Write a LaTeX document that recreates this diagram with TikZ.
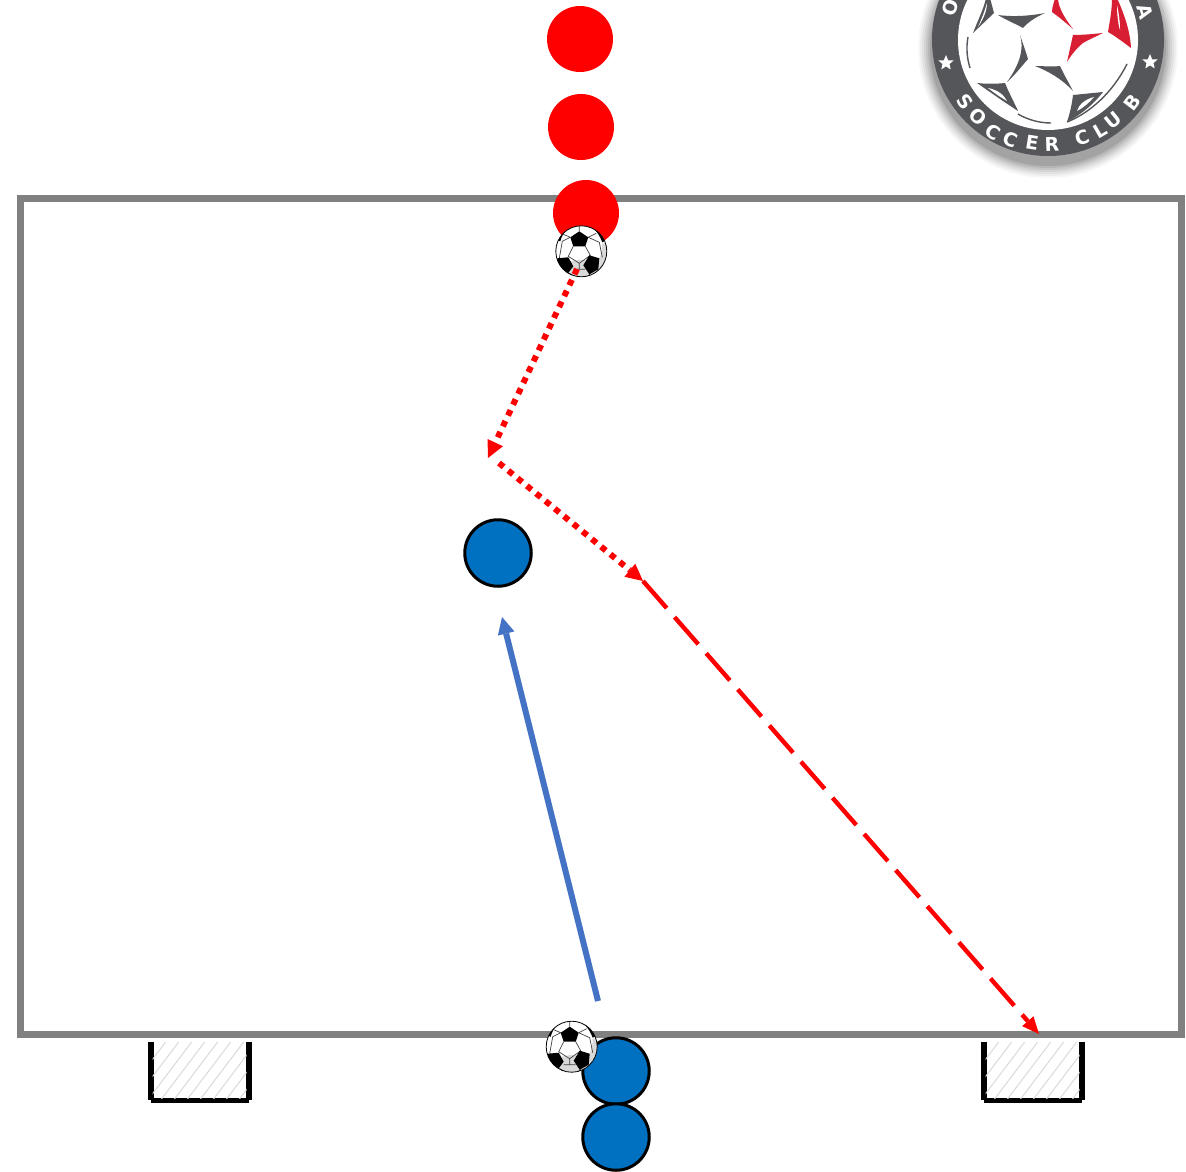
\documentclass[tikz,border=0pt]{standalone}
\usepackage{fontspec}
\setmainfont{Liberation Sans}
\newfontfamily\logofont{DejaVu Sans}
\usetikzlibrary{arrows.meta}
\definecolor{fieldgray}{HTML}{808080}
\definecolor{playerblue}{HTML}{0070C0}
\definecolor{runblue}{HTML}{4472C4}
\definecolor{hatchgray}{HTML}{D9D9D9}
\definecolor{logodark}{HTML}{54565A}
\definecolor{logored}{HTML}{D81E32}
\tikzset{
  x=1pt,y=-1pt,
  redplayer/.style={circle,fill=red,minimum size=66pt,inner sep=0pt},
  blueplayer/.style={circle,fill=playerblue,draw=black,line width=3pt,minimum size=66.5pt,inner sep=0pt},
  dottedpass/.style={draw=red,line width=6pt,dash pattern=on 6pt off 6pt,-{Triangle[length=17pt,width=17pt,fill=red,line width=0pt]}},
  dashedrun/.style={draw=red,line width=4.4pt,dash pattern=on 36pt off 12pt,-{Triangle[length=17pt,width=15pt,fill=red,line width=0pt]}},
  bluerun/.style={draw=runblue,line width=6pt,-{Triangle[length=17pt,width=17pt,fill=runblue,line width=0pt]}},
  goalwall/.style={draw=black,line width=6pt,line cap=butt},
  goalbar/.style={draw=black,line width=5pt,line cap=butt},
  hatchline/.style={draw=hatchgray,line width=1pt},
  logoletter/.style={font=\logofont\bfseries\fontsize{19}{19}\selectfont,text=white,inner sep=0pt},
  ballpatch/.style={fill=black,draw=none},
  ballseam/.style={draw=black!75,line width=.7pt},
  pics/soccerball/.style={code={
    \path[fill=white] (0,0) circle (25.5);
    \begin{scope}
      \clip (0,0) circle (25.5);
      \fill[black!15] (-22,13) -- (-12,11) .. controls (-6,8) and (2,8) .. (6,9) -- (17,9) .. controls (20,4) and (21,-2) .. (21,-8) -- (30,-8) -- (30,30) -- (-30,30) -- cycle;
      \draw[ballseam]
        (-2,-20) -- (-2,-26) (-11,-14) -- (-18,-17) (7,-14) -- (15,-18)
        (-8,-5) -- (-13,5) -- (-2,12) -- (9,4) -- (4,-5)
        (-11,-14) -- (-19,-10) -- (-22,7) (7,-14) -- (18,-9) -- (21,6)
        (-2,12) -- (-2,18) (-8,18) -- (-2,18) -- (4,18)
        (-12,22) -- (-5,26) (9,22) -- (6,26);
      \path[ballpatch] (-2,-20) -- (7,-14) -- (4,-5) -- (-8,-5) -- (-11,-14) -- cycle;
      \path[ballpatch] (-24,7) -- (-13,6) -- (-8,15) -- (-14,23) -- (-23,16) -- cycle;
      \path[ballpatch] (8,4) -- (18,7) -- (17,18) -- (8,23) -- (2,14) -- cycle;
      \path[ballpatch] (-15,-22) .. controls (-18,-18) and (-20,-14) .. (-21,-10) -- (-27,-12) -- (-20,-25) -- cycle;
      \path[ballpatch] (13,-22) .. controls (17,-18) and (19,-14) .. (21,-9) -- (27,-12) -- (20,-25) -- cycle;
    \end{scope}
    \draw[black,line width=.8pt] (0,0) circle (25.5);
  }}
}
\begin{document}
\begin{tikzpicture}
\useasboundingbox (0,0) rectangle (1186,1172);
\begin{scope}
\clip (0,0) rectangle (1186,1172);
% logo shadow
\foreach \r/\o in {130/.03,128/.04,126/.05,124/.06,122/.07,120/.08,118/.10}
  \fill[black,opacity=\o] (1048,48) circle (\r);
% logo disc
\fill[logodark] (1048,40) circle (116);
\fill[white] (1048,40) circle (90);
% logo panels (grey)
\fill[logodark] (973,33) .. controls (978,20) and (984,8) .. (986,-2) -- (990,-2) -- (994,13) -- cycle;
\fill[white] (978,27) .. controls (982,18) and (985,10) .. (987,3) .. controls (987,10) and (984,18) .. (978,27) -- cycle;
\fill[logodark] (998,15) .. controls (1012,17) and (1030,16) .. (1045,13) .. controls (1036,17) and (1028,22) .. (1023,28) .. controls (1016,24) and (1006,20) .. (998,15) -- cycle;
\fill[logodark] (1020,35) .. controls (1023,44) and (1026,52) .. (1028,59) .. controls (1021,67) and (1014,76) .. (1007,82) .. controls (1017,68) and (1025,52) .. (1020,35) -- cycle;
\fill[logodark] (1035,66) .. controls (1043,66) and (1052,67) .. (1060,66) .. controls (1064,75) and (1069,83) .. (1073,91) .. controls (1062,79) and (1048,71) .. (1035,66) -- cycle;
\fill[logodark] (977,83) .. controls (986,84) and (996,84) .. (1005,83) .. controls (1009,93) and (1014,102) .. (1018,111) .. controls (1004,102) and (990,92) .. (977,83) -- cycle;
\fill[white] (988,88) .. controls (993,92) and (1000,97) .. (1007,101) .. controls (1004,95) and (998,90) .. (988,88) -- cycle;
\fill[logodark] (1073,95) .. controls (1083,94) and (1093,93) .. (1103,92) .. controls (1092,106) and (1080,115) .. (1067,122) .. controls (1070,113) and (1072,104) .. (1073,95) -- cycle;
\fill[white] (1077,111) .. controls (1083,108) and (1089,103) .. (1094,97) .. controls (1086,99) and (1079,104) .. (1077,111) -- cycle;
\draw[logodark,line width=1.4pt] (1018,114) .. controls (1028,120) and (1040,123) .. (1051,123);
\draw[logodark,line width=1.4pt] (1067,122) .. controls (1090,113) and (1113,92) .. (1127,64);
\draw[logodark,line width=1.4pt] (968,37) .. controls (966,48) and (967,58) .. (970,68);
% logo panels (red)
\fill[logored] (1052,12) .. controls (1052,7) and (1054,3) .. (1055,-2) -- (1058,-2) .. controls (1058,8) and (1066,20) .. (1073,29) .. controls (1066,23) and (1059,17) .. (1052,12) -- cycle;
\fill[logored] (1073,35) .. controls (1083,35) and (1093,34) .. (1103,33) .. controls (1095,37) and (1088,40) .. (1083,43) .. controls (1077,48) and (1071,55) .. (1067,62) .. controls (1069,53) and (1071,44) .. (1073,35) -- cycle;
\fill[logored] (1112,-2) -- (1117,-2) .. controls (1124,14) and (1130,30) .. (1131,48) .. controls (1123,42) and (1115,36) .. (1108,32) .. controls (1110,20) and (1112,10) .. (1112,-2) -- cycle;
\fill[white] (1117,5) .. controls (1119,14) and (1120,22) .. (1120,30) .. controls (1118,24) and (1117,14) .. (1117,5) -- cycle;
% logo lettering
\foreach \ch/\px/\py/\rot in {S/965/102/-53,O/978/117/-42,C/993/132/-31,C/1010/140/-21,E/1032/143/-9,R/1052/144/2,C/1082/138/19,L/1100/130/30,U/1113/120/39,B/1132/103/53,O/950/8/72,A/1145/12/-74}
  \node[logoletter,rotate=\rot] at (\px,\py) {\ch};
\foreach \sx/\sy in {946/63,1150/62}
  \fill[white] (\sx,\sy)+(0,-8) -- +(2.2,-2.6) -- +(7.6,-2.5) -- +(3.5,1) -- +(4.7,6.5) -- +(0,3.4) -- +(-4.7,6.5) -- +(-3.5,1) -- +(-7.6,-2.5) -- +(-2.2,-2.6) -- cycle;
\end{scope}
% field
\draw[fieldgray,line width=7pt] (20,198) rectangle (1181,1034);
% goals
\foreach \gl/\gr in {151/249,984/1082}{
  \draw[goalwall] (\gl,1042) -- (\gl,1100) (\gr,1042) -- (\gr,1100);
  \draw[goalbar] (\gl,1100.8) -- (\gr,1100.8);
  \begin{scope}
    \clip (\gl+1.5,1042) rectangle (\gr-2.5,1098.5);
    \foreach \d in {-30,-17,...,120}
      \draw[hatchline] (\gl+\d,1101) -- ++(50,-66);
  \end{scope}
}
% players
\node[redplayer] (r1) at (580,39) {};
\node[redplayer] (r2) at (581,127) {};
\node[redplayer] (r3) at (586,213) {};
\node[blueplayer] (b1) at (498,553) {};
\node[blueplayer] (b2) at (616,1071) {};
\node[blueplayer] (b3) at (616,1137) {};
% balls
\pic at (581.3,251.3) {soccerball};
\pic at (571.7,1046.7) {soccerball};
% connectors
\coordinate (passstart) at (577,269);
\coordinate (passturn) at (488,458);
\coordinate (secondstart) at (499,463);
\coordinate (runturn) at (643,581);
\coordinate (shotend) at (1039,1034);
\coordinate (runstart) at (598,1001);
\coordinate (runend) at (502,617);
\draw[dottedpass] (passstart) -- (passturn);
\draw[dottedpass] (secondstart) -- (runturn);
\draw[dashedrun] (runturn) -- (shotend);
\draw[bluerun] (runstart) -- (runend);
\end{tikzpicture}
\end{document}
